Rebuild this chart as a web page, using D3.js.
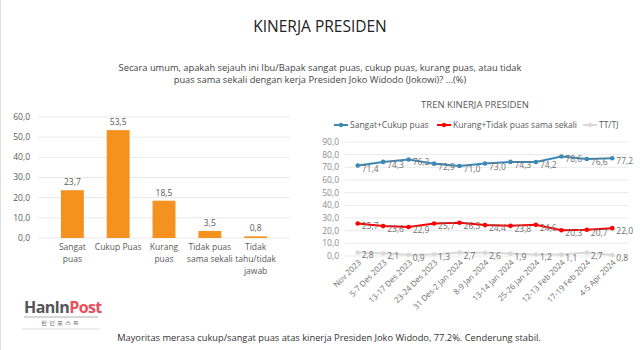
<html>
<head>
  <meta charset="utf-8" />
  <script src="https://cdnjs.cloudflare.com/ajax/libs/d3/7.8.5/d3.min.js"></script>
  <style>
    body { margin: 0; background: #fff; }
    text { font-family: "Open Sans", Lato, sans-serif; }
  </style>
</head>
<body>
  <svg></svg>
  <script>
    // answer categories and overall result (%)
    var answers = ["Sangat puas", "Cukup Puas", "Kurang puas", "Tidak puas sama sekali", "Tidak tahu/tidak jawab"]
    var answerLines = [["Sangat", "puas"], ["Cukup Puas"], ["Kurang", "puas"], ["Tidak puas", "sama sekali"], ["Tidak", "tahu/tidak", "jawab"]]
    var answerValues = [23.7, 53.5, 18.5, 3.5, 0.8]
    var barTicks = [0, 10, 20, 30, 40, 50, 60]

    // trend survey waves
    var waves = ["Nov 2023", "5-7 Des 2023", "13-17 Des 2023", "23-24 Des 2023", "31 Des-2 Jan 2024",
                 "8-9 Jan 2024", "13-14 Jan 2024", "25-26 Jan 2024", "12-13 Feb 2024", "17-19 Feb 2024", "4-5 Apr 2024"]
    var puas = [71.4, 74.3, 76.2, 72.9, 71.0, 73.0, 74.3, 74.2, 78.6, 76.6, 77.2]
    var tidakPuas = [25.7, 23.6, 22.9, 25.7, 26.3, 24.4, 23.8, 24.6, 20.3, 20.7, 22.0]
    var ttTj = [2.8, 2.1, 0.9, 1.3, 2.7, 2.6, 1.9, 1.2, 1.1, 2.7, 0.8]
    var trendTicks = [0, 10, 20, 30, 40, 50, 60, 70, 80, 90]

    var seriesNames = ["Sangat+Cukup puas", "Kurang+Tidak puas sama sekali", "TT/TJ"]
    var seriesColors = ["#3d88b5", "#ff0000", "#d9d9d9"]

    var fmt = v => d3.format(".1f")(v).replace(".", ",")

    var svg = d3.select("svg").attr("width", 640).attr("height", 350)
    svg.append("rect").attr("width", 640).attr("height", 350).attr("fill", "#fff")
    svg.append("line").attr("x1", 0.5).attr("x2", 0.5).attr("y1", 0).attr("y2", 350).attr("stroke", "#ddd")

    svg.append("text").attr("x", 320).attr("y", 32).attr("text-anchor", "middle")
      .attr("font-size", 15.5).attr("fill", "#222").text("KINERJA PRESIDEN")
    svg.append("text").attr("x", 320).attr("y", 71).attr("text-anchor", "middle")
      .attr("font-size", 9.3).attr("fill", "#444")
      .text("Secara umum, apakah sejauh ini Ibu/Bapak sangat puas, cukup puas, kurang puas, atau tidak")
    svg.append("text").attr("x", 320).attr("y", 83).attr("text-anchor", "middle")
      .attr("font-size", 9.3).attr("fill", "#444")
      .text("puas sama sekali dengan kerja Presiden Joko Widodo (Jokowi)? ...(%)")

    // ---- bar chart
    var xBar = d3.scaleBand().domain(answers).range([38, 290]).padding(0.5)
    var yBar = d3.scaleLinear().domain([0, 60]).range([238, 117])

    svg.append("g").selectAll("line").data(barTicks).enter().append("line")
      .attr("x1", 38).attr("x2", 290)
      .attr("y1", d => yBar(d)).attr("y2", d => yBar(d))
      .attr("stroke", "#e3e3e3").attr("stroke-width", 0.8)
    svg.append("g").selectAll("text").data(barTicks).enter().append("text")
      .attr("x", 30).attr("y", d => yBar(d)).attr("dy", "0.35em")
      .attr("text-anchor", "end").attr("font-size", 8.5).attr("fill", "#595959")
      .text(fmt)

    svg.append("g").selectAll("rect").data(answerValues).enter().append("rect")
      .attr("x", (d, i) => xBar(answers[i]))
      .attr("width", xBar.bandwidth())
      .attr("y", d => yBar(d))
      .attr("height", d => yBar(0) - yBar(d))
      .attr("fill", "#f5911e")
    svg.append("g").selectAll("text").data(answerValues).enter().append("text")
      .attr("x", (d, i) => xBar(answers[i]) + xBar.bandwidth() / 2)
      .attr("y", d => yBar(d) - 5)
      .attr("text-anchor", "middle").attr("font-size", 8.5).attr("fill", "#595959")
      .text(fmt)

    var catLabels = svg.append("g").selectAll("text").data(answers).enter().append("text")
      .attr("x", d => xBar(d) + xBar.bandwidth() / 2)
      .attr("y", 250)
      .attr("text-anchor", "middle").attr("font-size", 8.5).attr("fill", "#595959")
    catLabels.selectAll("tspan").data((d, i) => answerLines[i]).enter().append("tspan")
      .attr("x", function() { return this.parentNode.getAttribute("x") })
      .attr("dy", (d, i) => i ? 12 : 0)
      .text(d => d)

    // ---- trend chart
    svg.append("text").attr("x", 475).attr("y", 108).attr("text-anchor", "middle")
      .attr("font-size", 9.5).attr("fill", "#595959").text("TREN KINERJA PRESIDEN")

    var legendX = [334, 437, 583]
    var legend = svg.append("g").selectAll("g").data(seriesNames).enter().append("g")
      .attr("transform", (d, i) => "translate(" + legendX[i] + ",125)")
    legend.append("line").attr("x1", 0).attr("x2", 14)
      .attr("stroke", (d, i) => seriesColors[i]).attr("stroke-width", 2)
    legend.append("circle").attr("cx", 7).attr("r", 2.2)
      .attr("fill", (d, i) => seriesColors[i])
    legend.append("text").attr("x", 16).attr("dy", "0.35em")
      .attr("font-size", 8.5).attr("fill", "#595959").text(d => d)

    var xTrend = d3.scaleBand().domain(waves).range([345, 625])
    var yTrend = d3.scaleLinear().domain([0, 90]).range([256, 142])
    var cx = w => xTrend(w) + xTrend.bandwidth() / 2

    svg.append("g").selectAll("line").data(trendTicks).enter().append("line")
      .attr("x1", 345).attr("x2", 628)
      .attr("y1", d => yTrend(d)).attr("y2", d => yTrend(d))
      .attr("stroke", "#e3e3e3").attr("stroke-width", 0.8)
    svg.append("g").selectAll("text").data(trendTicks).enter().append("text")
      .attr("x", 339).attr("y", d => yTrend(d)).attr("dy", "0.35em")
      .attr("text-anchor", "end").attr("font-size", 8.5).attr("fill", "#8c8c8c")
      .text(fmt)

    svg.append("g").selectAll("text").data(waves).enter().append("text")
      .attr("transform", d => "translate(" + (cx(d) + 4) + ",263) rotate(-45)")
      .attr("text-anchor", "end").attr("font-size", 8).attr("fill", "#6f6f6f")
      .text(d => d)

    var line = d3.line().x((d, i) => cx(waves[i])).y(d => yTrend(d))
    var series = [puas, tidakPuas, ttTj]
    var sg = svg.append("g").selectAll("g").data(series).enter().append("g")
    sg.append("path").attr("d", d => line(d)).attr("fill", "none")
      .attr("stroke", (d, i) => seriesColors[i]).attr("stroke-width", 2)
    sg.each(function(vals, k) {
      var g = d3.select(this)
      g.selectAll("circle").data(vals).enter().append("circle")
        .attr("cx", (d, i) => cx(waves[i])).attr("cy", d => yTrend(d)).attr("r", 2.3)
        .attr("fill", seriesColors[k])
      g.selectAll("text").data(vals).enter().append("text")
        .attr("x", (d, i) => cx(waves[i]) + 4).attr("y", d => yTrend(d) + 3)
        .attr("dy", "0.35em").attr("font-size", 8.5).attr("fill", "#6f6f6f")
        .text(fmt)
    })

    // ---- logo and footer
    var logo = svg.append("g").attr("transform", "translate(24,299)")
    var lt = logo.append("text").attr("x", 0).attr("y", 14).attr("font-size", 16)
      .attr("font-weight", "bold").attr("font-family", "Roboto, sans-serif").attr("letter-spacing", -0.6)
    lt.append("tspan").attr("fill", "#555").text("HanIn")
    lt.append("tspan").attr("fill", "#e8505b").text("Post")
    logo.append("line").attr("x1", 0).attr("x2", 74).attr("y1", 18).attr("y2", 18)
      .attr("stroke", "#999").attr("stroke-width", 0.8)
    logo.append("text").attr("x", 37).attr("y", 26).attr("text-anchor", "middle")
      .attr("font-size", 6).attr("letter-spacing", 2).attr("fill", "#555")
      .attr("font-family", "Noto Sans CJK KR").text("한인포스트")
    logo.append("rect").attr("x", -2).attr("y", 29).attr("width", 78).attr("height", 2).attr("fill", "#eee")

    svg.append("text").attr("x", 329).attr("y", 341).attr("text-anchor", "middle")
      .attr("font-size", 9.3).attr("fill", "#333")
      .text("Mayoritas merasa cukup/sangat puas atas kinerja Presiden Joko Widodo, 77.2%. Cenderung stabil.")
  </script>
</body>
</html>
